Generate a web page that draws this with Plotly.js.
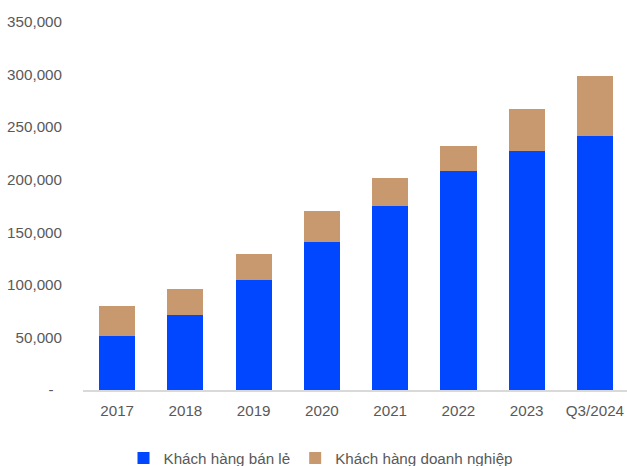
<!DOCTYPE html>
<html>
<head>
<meta charset="utf-8">
<script src="https://cdn.plot.ly/plotly-3.0.1.min.js"></script>
<style>html,body{margin:0;padding:0;background:#fff;}#chart{width:627px;height:466px;}</style>
</head>
<body>
<div id="chart"></div>
<script>
const categories = ["2017", "2018", "2019", "2020", "2021", "2022", "2023", "Q3/2024"];
const retailName = "Khách hàng bán lẻ";
const corporateName = "Khách hàng doanh nghiệp";
const retailValues = [51000, 71000, 105000, 141000, 175000, 208000, 227000, 242000];
const corporateValues = [29000, 25000, 24500, 29500, 27000, 24000, 40000, 56500];
const yTickValues = [0, 50000, 100000, 150000, 200000, 250000, 300000, 350000];
const yTickLabels = ["-\u00a0\u00a0", "50,000", "100,000", "150,000", "200,000", "250,000", "300,000", "350,000"];

const FONT = "'Liberation Sans', Arial, sans-serif";
const TXT = "#595959";
const FS = 15.2;

const data = [
  {type: "bar", name: retailName, x: categories, y: retailValues,
   marker: {color: "#0047FF"}, hoverinfo: "skip"},
  {type: "bar", name: corporateName, x: categories, y: corporateValues,
   marker: {color: "#C8996F"}, hoverinfo: "skip"}
];

const layout = {
  width: 627, height: 466,
  margin: {l: 83, r: 0, t: 22, b: 76, autoexpand: false},
  paper_bgcolor: "#ffffff", plot_bgcolor: "#ffffff",
  barmode: "stack", bargap: 0.47,
  font: {family: FONT, size: FS, color: TXT},
  xaxis: {type: "category", range: [-0.5, 7.47], showgrid: false, zeroline: false,
          showline: true, linecolor: "#d9d9d9", linewidth: 2, ticks: "",
          ticklabelstandoff: 6, tickfont: {family: FONT, size: FS, color: TXT}, fixedrange: true},
  yaxis: {range: [0, 350000], tickvals: yTickValues, ticktext: yTickLabels,
          showgrid: false, zeroline: false, showline: false, ticks: "",
          ticklabelstandoff: 20, tickfont: {family: FONT, size: FS, color: TXT}, fixedrange: true},
  showlegend: true,
  legend: {orientation: "h", xref: "container", yref: "container", x: 123.5/627, y: 8/466,
           xanchor: "left", yanchor: "middle", font: {family: FONT, size: FS, color: TXT},
           bgcolor: "rgba(0,0,0,0)", traceorder: "normal"}
};

Plotly.newPlot("chart", data, layout, {displayModeBar: false, staticPlot: true});
</script>
</body>
</html>
